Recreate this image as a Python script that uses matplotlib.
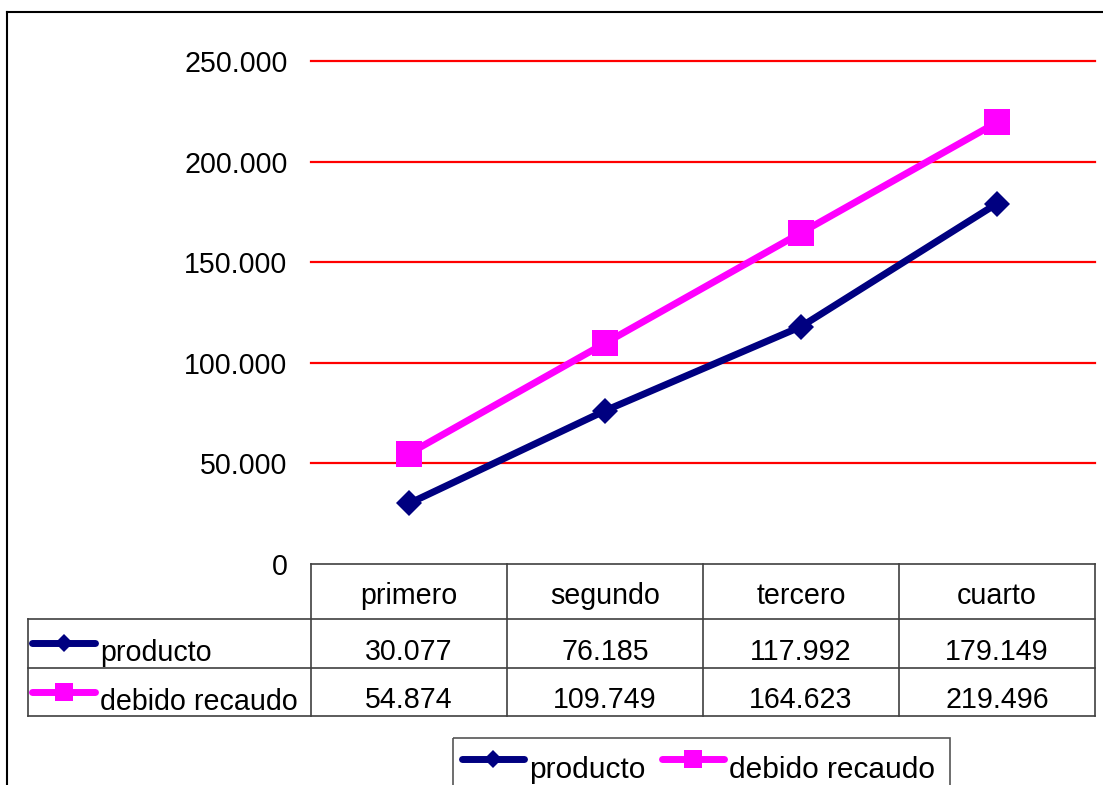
import matplotlib
matplotlib.use("Agg")
import matplotlib.pyplot as plt
from matplotlib.patches import Rectangle
from matplotlib.ticker import FuncFormatter, MultipleLocator

plt.rcParams['font.family'] = ['Liberation Sans', 'DejaVu Sans']

# data
categories = ['primero', 'segundo', 'tercero', 'cuarto']
producto = [30077, 76185, 117992, 179149]
debido_recaudo = [54874, 109749, 164623, 219496]
series_names = ['producto', 'debido recaudo']
y_ticks = [0, 50000, 100000, 150000, 200000, 250000]

W, H = 1103, 785
NAVY = '#000080'
MAGENTA = '#FF00FF'
FS = 20.6

# plot area in pixels
PL, PR, PT, PB = 311, 1095, 61, 564
TL = 28  # left edge of the table label column


def fmt(v):
    return f'{int(v):,}'.replace(',', '.')


fig = plt.figure(figsize=(W / 100, H / 100), dpi=100)

# overlay in pixel coordinates for the border, data table and legend
ov = fig.add_axes([0, 0, 1, 1], zorder=0)
ov.set_xlim(0, W)
ov.set_ylim(H, 0)
ov.axis('off')

ax = fig.add_axes([PL / W, 1 - PB / H, (PR - PL) / W, (PB - PT) / H], zorder=1)
ax.patch.set_alpha(0)

# red gridlines (none at 0, the table border sits there)
for t in y_ticks[1:]:
    ax.axhline(t, color='#FF0000', lw=1.6, clip_on=False, zorder=1)

styles = [
    dict(color=NAVY, marker='D', markersize=13.5),
    dict(color=MAGENTA, marker='s', markersize=19),
]
x = list(range(len(categories)))
for vals, name, st in zip([producto, debido_recaudo], series_names, styles):
    ax.plot(x, vals, lw=5, solid_capstyle='round', markeredgewidth=0,
            label=name, zorder=3, clip_on=False, **st)

ax.set_xlim(-0.5, len(categories) - 0.5)
ax.set_ylim(y_ticks[0], y_ticks[-1])
ax.set_yticks(y_ticks)
ax.yaxis.set_major_formatter(FuncFormatter(lambda v, p: fmt(v)))
ax.set_xticks([])
ax.tick_params(axis='y', length=0, pad=17, labelsize=FS)
for s in ax.spines.values():
    s.set_visible(False)

# outer chart border
ov.plot([7, W], [12, 12], color='black', lw=1.5)
ov.plot([7, 7], [12, H], color='black', lw=1.5)

# data table
col_w = (PR - PL) / len(categories)
rows_y = [564, 619, 668, 716]
lc = '#404040'
ov.plot([PL, PR], [rows_y[0], rows_y[0]], color=lc, lw=1.2)
for yy in rows_y[1:]:
    ov.plot([TL, PR], [yy, yy], color=lc, lw=1.2)
ov.plot([TL, TL], [rows_y[1], rows_y[3]], color=lc, lw=1.2)
for i in range(len(categories) + 1):
    xx = PL + i * col_w
    ov.plot([xx, xx], [rows_y[0], rows_y[3]], color=lc, lw=1.2)

for i, cat in enumerate(categories):
    cx = PL + (i + 0.5) * col_w
    ov.text(cx, 604, cat, ha='center', va='baseline', fontsize=FS)
    ov.text(cx, 660, fmt(producto[i]), ha='center', va='baseline', fontsize=FS)
    ov.text(cx, 708, fmt(debido_recaudo[i]), ha='center', va='baseline', fontsize=FS)


def icon(x0, x1, y, st):
    ov.plot([x0, x1], [y, y], lw=5, solid_capstyle='round', color=st['color'])
    ov.plot([(x0 + x1) / 2], [y], marker=st['marker'], markersize=st['markersize'] * 0.7,
            color=st['color'], markeredgewidth=0)


for yy_icon, yy_txt, name, st in zip([643, 692], [661, 710], series_names, styles):
    icon(32, 95, yy_icon, st)
    ov.text(100, yy_txt, name, ha='left', va='baseline', fontsize=FS)

# legend box below the table
ov.add_patch(Rectangle((453, 738), 497, 70, fill=False, edgecolor='#555555', lw=1.2))
for x0, x1, xt, name, st in zip([462, 662], [524, 724], [529, 729], series_names, styles):
    icon(x0, x1, 759, st)
    ov.text(xt, 778, name, ha='left', va='baseline', fontsize=21.5)

fig.savefig('out.png', dpi=100)
